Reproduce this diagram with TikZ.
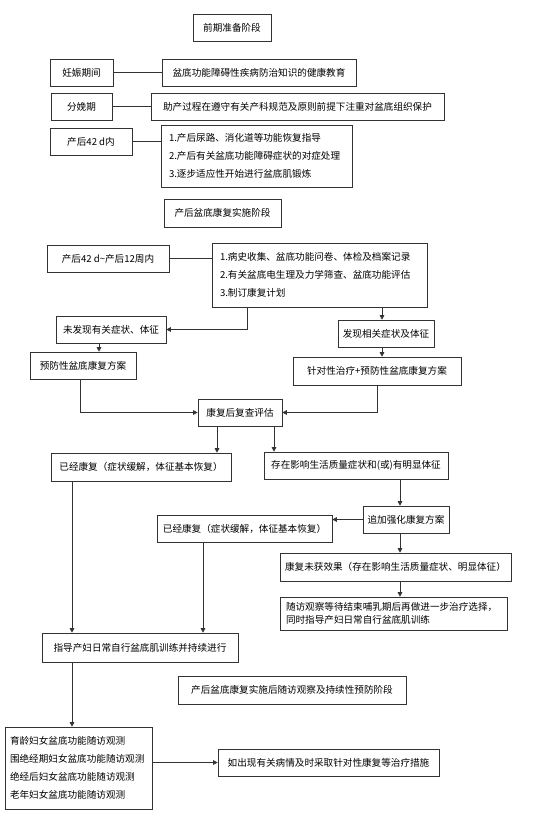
\documentclass[tikz,border=0pt]{standalone}
\usepackage{fontspec}
\newfontfamily\cjk{Noto Sans CJK SC}
\usetikzlibrary{arrows.meta}

\begin{document}
\begin{tikzpicture}[
    x=1pt, y=-1pt,
    box/.style = {rectangle, draw=black!80, line width=0.6pt, align=center, font=\cjk\fontsize{9.6}{18}\selectfont, inner sep=0pt, minimum height=27pt},
    listbox/.style = {box, align=left, inner xsep=8pt, inner ysep=0pt},
    link/.style = {draw=black!80, line width=0.6pt},
    arrow/.style = {link, -{Triangle[length=4.5pt, width=4.5pt]}}
]
\useasboundingbox (0,0) rectangle (535,819);

% Stage 1: Preparation
\node (prep) [box, minimum width=78pt, at={(232,27.5)}] {前期准备阶段};
\node (preg) [box, minimum width=63pt, at={(81.5,72.5)}] {妊娠期间};
\node (edu) [box, minimum width=194pt, at={(259,72.5)}] {盆底功能障碍性疾病防治知识的健康教育};
\node (birth) [box, minimum width=61pt, at={(81.5,106.5)}] {分娩期};
\node (protect) [box, minimum width=293pt, at={(297.5,106.5)}] {助产过程在遵守有关产科规范及原则前提下注重对盆底组织保护};
\node (pp42) [box, minimum width=82pt, at={(91,141.5)}] {产后42 d内};
\node (care) [listbox, text width=175pt, minimum height=62pt, at={(256.5,156)}] {1.产后尿路、消化道等功能恢复指导\\2.产后有关盆底功能障碍症状的对症处理\\3.逐步适应性开始进行盆底肌锻炼};

% Stage 1 Connections
\draw [link] (preg) -- (edu);
\draw [link] (birth) -- (protect);
\draw [link] (pp42.east) -- (pp42.east -| care.west);

% Stage 2: Implementation
\node (impl) [box, minimum width=117pt, minimum height=28pt, at={(222.5,213)}] {产后盆底康复实施阶段};
\node (pp12) [box, minimum width=122pt, at={(108,258.5)}] {产后42 d\textasciitilde 产后12周内};
\node (assess) [listbox, text width=199pt, minimum height=64pt, at={(319.5,275)}] {1.病史收集、盆底功能问卷、体检及档案记录\\2.有关盆底电生理及力学筛查、盆底功能评估\\3.制订康复计划};
\node (nosym) [box, minimum width=110pt, at={(111,329.5)}] {未发现有关症状、体征};
\node (sym) [box, minimum width=96pt, at={(386,333.5)}] {发现相关症状及体征};
\node (prev) [box, minimum width=106pt, at={(83,365.5)}] {预防性盆底康复方案};
\node (target) [box, minimum width=168pt, minimum height=28pt, at={(377,371)}] {针对性治疗+预防性盆底康复方案};
\node (eval) [box, minimum width=84pt, at={(240,412.5)}] {康复后复查评估};
\node (rec1) [box, minimum width=180pt, minimum height=28pt, at={(141,467)}] {已经康复（症状缓解，体征基本恢复）};
\node (persist) [box, minimum width=184pt, at={(356,465.5)}] {存在影响生活质量症状和(或)有明显体征};
\node (extra) [box, minimum width=86pt, at={(406,519.5)}] {追加强化康复方案};
\node (rec2) [box, minimum width=175pt, at={(244.5,528.5)}] {已经康复（症状缓解，体征基本恢复）};
\node (fail) [box, minimum width=231pt, minimum height=28pt, at={(395.5,567)}] {康复未获效果（存在影响生活质量症状、明显体征）};
\node (follow) [listbox, inner xsep=6pt, text width=215pt, minimum height=33pt, font=\cjk\fontsize{9.6}{13}\selectfont, at={(393.5,613.5)}] {随访观察等待结束哺乳期后再做进一步治疗选择，\\同时指导产妇日常自行盆底肌训练};
\node (guide) [box, minimum width=196pt, minimum height=29pt, at={(140,647.5)}] {指导产妇日常自行盆底肌训练并持续进行};

% Stage 2 Connections
\draw [link] (pp12.east) -- (pp12.east -| assess.west);
\draw [arrow] ([xshift=-72.5pt]assess.south) |- (nosym.east);
\draw [arrow] ([xshift=-4pt]sym.north |- assess.south) -- ([xshift=-4pt]sym.north);
\draw [arrow] ([xshift=-12pt]nosym.south) -- ([xshift=-12pt]nosym.south |- prev.north);
\draw [arrow] ([xshift=-4pt]sym.south) -- ([xshift=-4pt]sym.south |- target.north);
\draw [arrow] ([xshift=-3pt]prev.south) |- (eval.west);
\draw [arrow] (target.south) |- (eval.east);
\draw [arrow] ([xshift=-23pt]eval.south) -- ([xshift=-23pt]eval.south |- rec1.north);
\draw [arrow] ([xshift=34pt]eval.south) -- ([xshift=34pt]eval.south |- persist.north);
\draw [arrow] ([xshift=-6pt]extra.north |- persist.south) -- ([xshift=-6pt]extra.north);
\draw [arrow] (extra.west) -- (extra.west -| rec2.east);
\draw [arrow] ([xshift=-6pt]extra.south) -- ([xshift=-6pt]extra.south |- fail.north);
\draw [arrow] ([xshift=-6pt]extra.south |- fail.south) -- ([xshift=-6pt]extra.south |- follow.north);
\draw [arrow] ([xshift=-69pt]rec1.south) -- ([xshift=-69pt]rec1.south |- guide.north);
\draw [arrow] ([xshift=-41.5pt]rec2.south) -- ([xshift=-41.5pt]rec2.south |- guide.north);

% Stage 3: Follow-up and Prevention
\node (post) [box, minimum width=228pt, minimum height=28pt, at={(292,690)}] {产后盆底康复实施后随访观察及持续性预防阶段};
\node (monitor) [listbox, inner xsep=5pt, text width=137pt, minimum height=82pt, at={(78.5,768)}] {育龄妇女盆底功能随访观测\\围绝经期妇女盆底功能随访观测\\绝经后妇女盆底功能随访观测\\老年妇女盆底功能随访观测};
\node (measure) [box, minimum width=221pt, at={(328.5,762.5)}] {如出现有关病情及时采取针对性康复等治疗措施};

% Stage 3 Connections
\draw [arrow] ([xshift=-68pt]guide.south) -- ([xshift=-68pt]guide.south |- monitor.north);
\draw [arrow] (measure.west -| monitor.east) -- (measure.west);

\end{tikzpicture}
\end{document}
